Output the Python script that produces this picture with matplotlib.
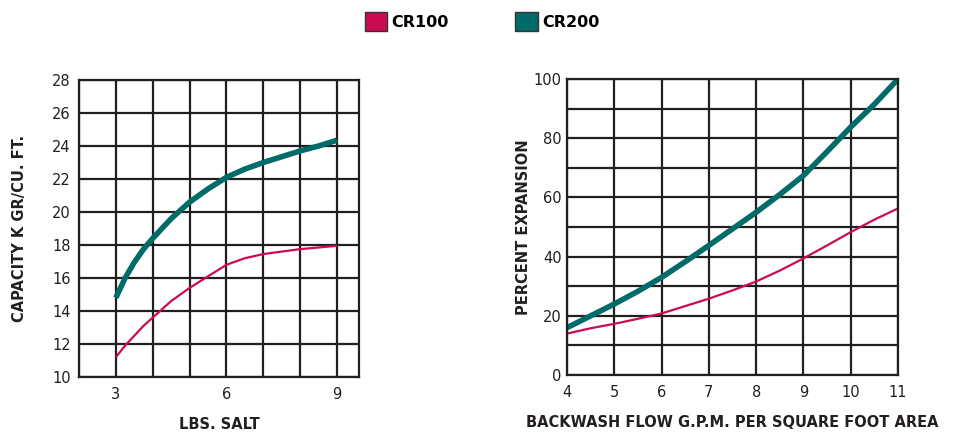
import matplotlib
matplotlib.use("Agg")
import matplotlib.pyplot as plt
from matplotlib.patches import Patch
import numpy as np

plt.rcParams['font.family'] = ['DejaVu Sans']

# Left chart: capacity vs lbs salt
salt_x = [3.0, 3.25, 3.5, 3.75, 4.0, 4.5, 5.0, 5.5, 6.0, 6.5, 7.0, 7.5, 8.0, 8.5, 9.0]
cap_cr100 = [11.2, 11.9, 12.5, 13.1, 13.6, 14.6, 15.4, 16.1, 16.8, 17.2, 17.45, 17.6, 17.75, 17.85, 17.95]
cap_cr200 = [14.8, 16.0, 16.95, 17.75, 18.4, 19.6, 20.6, 21.4, 22.1, 22.6, 23.0, 23.35, 23.7, 24.0, 24.35]

# Right chart: percent expansion vs backwash flow
flow_x = [4.0, 4.5, 5.0, 5.5, 6.0, 6.5, 7.0, 7.5, 8.0, 8.5, 9.0, 9.5, 10.0, 10.5, 11.0]
exp_cr100 = [14.0, 15.8, 17.3, 19.0, 20.8, 23.3, 25.8, 28.6, 31.6, 35.3, 39.4, 43.8, 48.3, 52.5, 56.3]
exp_cr200 = [16.0, 20.0, 24.0, 28.3, 33.0, 38.3, 43.8, 49.4, 55.0, 61.0, 67.4, 75.5, 83.8, 91.5, 100.0]

series_names = ["CR100", "CR200"]
colors = {"CR100": "#cc0a55", "CR200": "#006b68"}
widths = {"CR100": 1.6, "CR200": 4.0}

left_yticks = [10, 12, 14, 16, 18, 20, 22, 24, 26, 28]
left_xticks = [3, 6, 9]
left_xgrid = [2, 3, 4, 5, 6, 7, 8, 9]
right_yticks = [0, 20, 40, 60, 80, 100]
right_ygrid = list(range(0, 101, 10))
right_xticks = [4, 5, 6, 7, 8, 9, 10, 11]

gridc = "#231f20"
textc = "#231f20"

fig = plt.figure(figsize=(9.58, 4.32), dpi=100)

axL = fig.add_axes([0.0825, 0.1273, 0.2923, 0.6875])
axR = fig.add_axes([0.5919, 0.1319, 0.3455, 0.685])

# Left
axL.set_xlim(2, 9.6)
axL.set_ylim(10, 28)
for gx in left_xgrid:
    axL.axvline(gx, color=gridc, lw=1.6, zorder=1)
for gy in left_yticks:
    axL.axhline(gy, color=gridc, lw=1.6, zorder=1)
axL.plot(salt_x, cap_cr100, color=colors["CR100"], lw=widths["CR100"], zorder=3, solid_capstyle='butt')
axL.plot(salt_x, cap_cr200, color=colors["CR200"], lw=widths["CR200"], zorder=3, solid_capstyle='butt')
axL.set_xticks(left_xticks)
axL.set_yticks(left_yticks)
axL.tick_params(length=0, labelsize=10.5, colors=textc, pad=6)
axL.tick_params(axis='x', pad=7)
axL.set_xlabel("LBS. SALT", fontsize=10.5, fontweight='bold', color=textc, labelpad=11)
axL.set_ylabel("CAPACITY K GR/CU. FT.", fontsize=10.5, fontweight='bold', color=textc, labelpad=18)

# Right
axR.set_xlim(4, 11)
axR.set_ylim(0, 100)
for gx in right_xticks:
    axR.axvline(gx, color=gridc, lw=1.6, zorder=1)
for gy in right_ygrid:
    axR.axhline(gy, color=gridc, lw=1.6, zorder=1)
axR.plot(flow_x, exp_cr100, color=colors["CR100"], lw=widths["CR100"], zorder=3, solid_capstyle='butt')
axR.plot(flow_x, exp_cr200, color=colors["CR200"], lw=widths["CR200"], zorder=3, solid_capstyle='butt')
axR.set_xticks(right_xticks)
axR.set_yticks(right_yticks)
axR.tick_params(length=0, labelsize=10.5, colors=textc, pad=4)
axR.tick_params(axis='x', pad=7)
axR.set_xlabel("BACKWASH FLOW G.P.M. PER SQUARE FOOT AREA", fontsize=10.5, fontweight='bold', color=textc, labelpad=11)
axR.set_ylabel("PERCENT EXPANSION", fontsize=10.5, fontweight='bold', color=textc, labelpad=2)

for ax in (axL, axR):
    for s in ax.spines.values():
        s.set_color(gridc)
        s.set_linewidth(1.6)
        s.set_zorder(4)

handles = [Patch(facecolor=colors[n], edgecolor="#333333", lw=1.0) for n in series_names]
fig.legend(handles, series_names, loc='center', bbox_to_anchor=(0.503, 0.95), ncol=2,
           frameon=False, handlelength=1.4, handleheight=1.4,
           handletextpad=0.25, columnspacing=4.2, prop={'weight': 'bold', 'size': 11.5})

fig.savefig("out.png", dpi=100)
